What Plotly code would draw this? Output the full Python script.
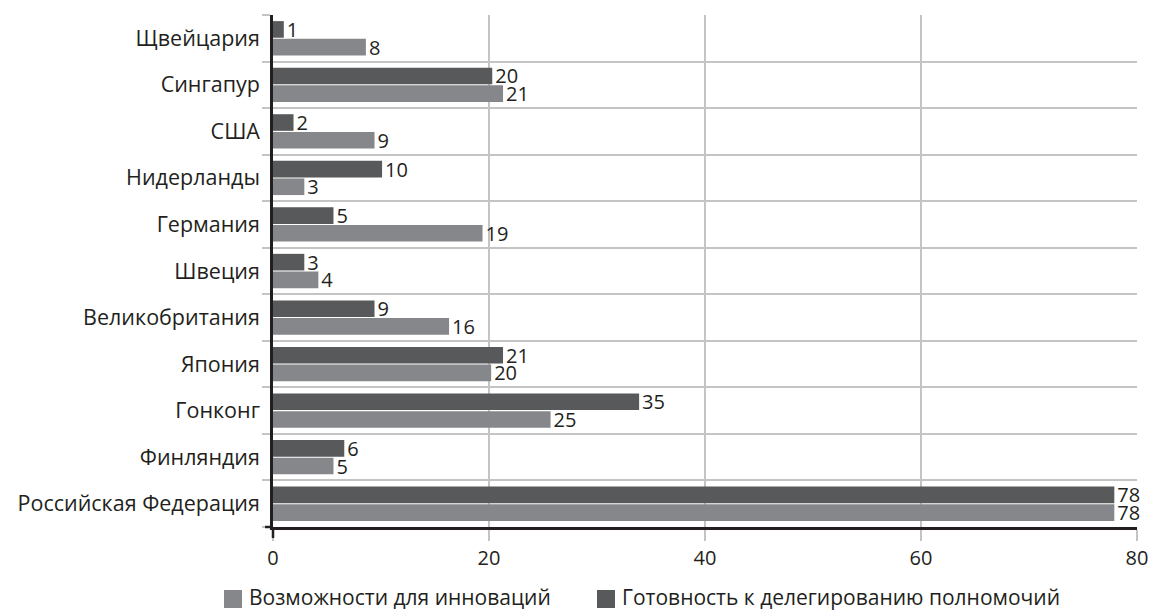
import plotly.graph_objects as go

countries = ["Российская Федерация", "Финляндия", "Гонконг", "Япония", "Великобритания",
             "Швеция", "Германия", "Нидерланды", "США", "Сингапур", "Щвейцария"]

# Bar lengths
innov_values = [77.9, 5.6, 25.7, 20.2, 16.3, 4.2, 19.4, 2.9, 9.4, 21.3, 8.6]
deleg_values = [77.9, 6.6, 33.9, 21.3, 9.4, 2.9, 5.6, 10.1, 1.9, 20.3, 1.0]

# Printed data labels
innov_labels = ["78", "5", "25", "20", "16", "4", "19", "3", "9", "21", "8"]
deleg_labels = ["78", "6", "35", "21", "9", "3", "5", "10", "2", "20", "1"]

series_names = ["Возможности для инноваций", "Готовность к делегированию полномочий"]
x_ticks = [0, 20, 40, 60, 80]

LIGHT = "#86878a"
DARK = "#58595b"
TEXT = "#231f20"
GRID = "#c4c4c4"
FONT = "Open Sans"

# plot area geometry (pixels)
W, H = 1152, 613
L, R, T, B = 273, 15, 15, 86
PW, PH = W - L - R, H - T - B


def px_x(x):
    return (x - L) / PW


def px_y(y):
    return (H - B - y) / PH


fig = go.Figure()
for vals, labs, name, col in [(innov_values, innov_labels, series_names[0], LIGHT),
                              (deleg_values, deleg_labels, series_names[1], DARK)]:
    fig.add_trace(go.Bar(
        y=countries, x=vals, orientation="h", name=name,
        marker=dict(color=col, line=dict(width=0)),
        text=labs, textposition="outside", textangle=0,
        textfont=dict(family=FONT, size=20, color=TEXT),
        constraintext="none", cliponaxis=False, hoverinfo="skip",
        showlegend=False,
    ))

# custom legend (large square swatches like the reference)
legend_items = [
    (series_names[0], LIGHT, 224, 242, 247),
    (series_names[1], DARK, 597, 615, 620),
]
shapes = []
annotations = []
for name, col, sx0, sx1, tx in legend_items:
    shapes.append(dict(type="rect", xref="paper", yref="paper",
                       x0=px_x(sx0), x1=px_x(sx1), y0=px_y(590), y1=px_y(608),
                       fillcolor=col, line=dict(width=0), layer="above"))
    annotations.append(dict(text=name, xref="paper", yref="paper",
                            x=px_x(tx), y=px_y(597), xanchor="left", yanchor="middle",
                            showarrow=False, font=dict(family=FONT, size=21, color=TEXT)))

# black extensions of the axis lines at the origin
shapes.append(dict(type="line", xref="paper", yref="paper",
                   x0=0, x1=0, y0=0, y1=px_y(H - B + 11),
                   line=dict(color=TEXT, width=2.5), layer="above"))
shapes.append(dict(type="line", xref="paper", yref="paper",
                   x0=px_x(L - 8), x1=0, y0=0, y1=0,
                   line=dict(color=TEXT, width=2.5), layer="above"))

fig.update_layout(
    width=W, height=H,
    margin=dict(l=L, r=R, t=T, b=B, autoexpand=False),
    paper_bgcolor="white", plot_bgcolor="white",
    barmode="group", bargap=0.24, bargroupgap=0.06,
    font=dict(family=FONT, size=20, color=TEXT),
    showlegend=False,
    shapes=shapes, annotations=annotations,
    xaxis=dict(
        range=[0, 80], tickvals=x_ticks, ticktext=[str(v) for v in x_ticks],
        showgrid=True, gridcolor=GRID, gridwidth=1.5,
        showline=True, linecolor=TEXT, linewidth=2.5,
        ticks="outside", ticklen=11, tickcolor=GRID, tickwidth=1.5,
        tickfont=dict(family=FONT, size=20, color=TEXT),
        zeroline=False, fixedrange=True, automargin=False,
    ),
    yaxis=dict(
        type="category", categoryorder="array", categoryarray=countries,
        tickson="boundaries", showgrid=True, gridcolor=GRID, gridwidth=1.5,
        showline=True, linecolor=TEXT, linewidth=2.5,
        ticks="outside", ticklen=8, tickcolor=GRID, tickwidth=1.5,
        tickfont=dict(family=FONT, size=21.5, color=TEXT),
        ticklabelstandoff=6,
        fixedrange=True, automargin=False,
    ),
)

fig.write_html("out.html")
